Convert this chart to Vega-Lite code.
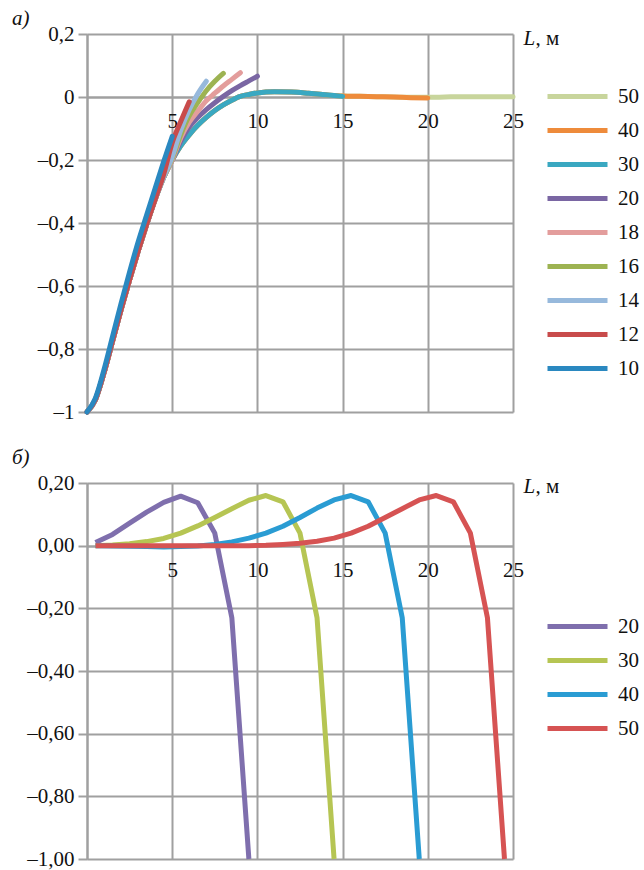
{
  "$schema": "https://vega.github.io/schema/vega-lite/v6.json",
  "padding": {"left": 12, "top": 8, "right": 2, "bottom": 2},
  "spacing": 25,
  "config": {
    "font": "Liberation Serif",
    "view": {"stroke": null},
    "axis": {"labelFont": "Liberation Serif", "titleFont": "Liberation Serif", "labelFontSize": 21, "titleFontSize": 21, "labelColor": "#111111", "titleColor": "#111111", "gridColor": "#a0a0a0", "gridWidth": 2, "domainColor": "#a0a0a0", "domainWidth": 2, "tickColor": "#a0a0a0", "tickWidth": 2, "labelFlush": false, "labelOverlap": false, "titleFontWeight": "normal"},
    "legend": {"labelFont": "Liberation Serif", "labelFontSize": 21, "labelColor": "#111111"},
    "title": {"font": "Liberation Serif", "fontSize": 21, "fontStyle": "italic", "fontWeight": "normal", "color": "#111111", "anchor": "start"}
  },
  "datasets": {
    "a": [
      {"s":"50","L":0,"v":-1},{"s":"50","L":0.5,"v":-0.96},{"s":"50","L":1,"v":-0.875},{"s":"50","L":1.5,"v":-0.775},{"s":"50","L":2,"v":-0.675},{"s":"50","L":2.5,"v":-0.58},{"s":"50","L":3,"v":-0.49},{"s":"50","L":3.5,"v":-0.405},{"s":"50","L":4,"v":-0.325},{"s":"50","L":4.5,"v":-0.255},{"s":"50","L":5,"v":-0.2},{"s":"50","L":5.5,"v":-0.155},{"s":"50","L":6,"v":-0.12},{"s":"50","L":6.5,"v":-0.09},{"s":"50","L":7,"v":-0.065},{"s":"50","L":7.5,"v":-0.043},{"s":"50","L":8,"v":-0.025},{"s":"50","L":8.5,"v":-0.01},{"s":"50","L":9,"v":0.002},{"s":"50","L":9.5,"v":0.008},{"s":"50","L":10,"v":0.013},{"s":"50","L":10.5,"v":0.016},{"s":"50","L":11,"v":0.017},{"s":"50","L":12,"v":0.016},{"s":"50","L":13,"v":0.012},{"s":"50","L":14,"v":0.007},{"s":"50","L":15,"v":0.003},{"s":"50","L":16,"v":0.002},{"s":"50","L":17,"v":0.001},{"s":"50","L":18,"v":0},{"s":"50","L":19,"v":-0.001},{"s":"50","L":20,"v":-0.001},{"s":"50","L":21,"v":0},{"s":"50","L":22,"v":0.001},{"s":"50","L":23,"v":0.001},{"s":"50","L":24,"v":0.001},{"s":"50","L":25,"v":0.001},
      {"s":"40","L":0,"v":-1},{"s":"40","L":0.5,"v":-0.96},{"s":"40","L":1,"v":-0.875},{"s":"40","L":1.5,"v":-0.775},{"s":"40","L":2,"v":-0.675},{"s":"40","L":2.5,"v":-0.58},{"s":"40","L":3,"v":-0.49},{"s":"40","L":3.5,"v":-0.405},{"s":"40","L":4,"v":-0.325},{"s":"40","L":4.5,"v":-0.255},{"s":"40","L":5,"v":-0.2},{"s":"40","L":5.5,"v":-0.155},{"s":"40","L":6,"v":-0.12},{"s":"40","L":6.5,"v":-0.09},{"s":"40","L":7,"v":-0.065},{"s":"40","L":7.5,"v":-0.043},{"s":"40","L":8,"v":-0.025},{"s":"40","L":8.5,"v":-0.01},{"s":"40","L":9,"v":0.002},{"s":"40","L":9.5,"v":0.008},{"s":"40","L":10,"v":0.013},{"s":"40","L":10.5,"v":0.016},{"s":"40","L":11,"v":0.017},{"s":"40","L":12,"v":0.016},{"s":"40","L":13,"v":0.012},{"s":"40","L":14,"v":0.007},{"s":"40","L":15,"v":0.003},{"s":"40","L":16,"v":0.002},{"s":"40","L":17,"v":0.001},{"s":"40","L":18,"v":0},{"s":"40","L":19,"v":-0.002},{"s":"40","L":20,"v":-0.003},
      {"s":"30","L":0,"v":-1},{"s":"30","L":0.5,"v":-0.96},{"s":"30","L":1,"v":-0.875},{"s":"30","L":1.5,"v":-0.775},{"s":"30","L":2,"v":-0.675},{"s":"30","L":2.5,"v":-0.58},{"s":"30","L":3,"v":-0.49},{"s":"30","L":3.5,"v":-0.405},{"s":"30","L":4,"v":-0.325},{"s":"30","L":4.5,"v":-0.255},{"s":"30","L":5,"v":-0.2},{"s":"30","L":5.5,"v":-0.155},{"s":"30","L":6,"v":-0.12},{"s":"30","L":6.5,"v":-0.09},{"s":"30","L":7,"v":-0.065},{"s":"30","L":7.5,"v":-0.043},{"s":"30","L":8,"v":-0.025},{"s":"30","L":8.5,"v":-0.01},{"s":"30","L":9,"v":0.002},{"s":"30","L":9.5,"v":0.008},{"s":"30","L":10,"v":0.013},{"s":"30","L":10.5,"v":0.016},{"s":"30","L":11,"v":0.017},{"s":"30","L":12,"v":0.016},{"s":"30","L":13,"v":0.012},{"s":"30","L":14,"v":0.007},{"s":"30","L":15,"v":0.002},
      {"s":"20","L":0,"v":-1},{"s":"20","L":0.5,"v":-0.96},{"s":"20","L":1,"v":-0.875},{"s":"20","L":1.5,"v":-0.775},{"s":"20","L":2,"v":-0.675},{"s":"20","L":2.5,"v":-0.58},{"s":"20","L":3,"v":-0.49},{"s":"20","L":3.5,"v":-0.405},{"s":"20","L":4,"v":-0.325},{"s":"20","L":4.5,"v":-0.255},{"s":"20","L":5,"v":-0.2},{"s":"20","L":5.5,"v":-0.14},{"s":"20","L":6,"v":-0.095},{"s":"20","L":6.5,"v":-0.065},{"s":"20","L":7,"v":-0.04},{"s":"20","L":7.5,"v":-0.018},{"s":"20","L":8,"v":0.002},{"s":"20","L":8.5,"v":0.02},{"s":"20","L":9,"v":0.036},{"s":"20","L":9.5,"v":0.051},{"s":"20","L":10,"v":0.066},
      {"s":"18","L":0,"v":-1},{"s":"18","L":0.5,"v":-0.96},{"s":"18","L":1,"v":-0.875},{"s":"18","L":1.5,"v":-0.775},{"s":"18","L":2,"v":-0.675},{"s":"18","L":2.5,"v":-0.58},{"s":"18","L":3,"v":-0.49},{"s":"18","L":3.5,"v":-0.405},{"s":"18","L":4,"v":-0.325},{"s":"18","L":4.5,"v":-0.255},{"s":"18","L":5,"v":-0.2},{"s":"18","L":5.5,"v":-0.13},{"s":"18","L":6,"v":-0.08},{"s":"18","L":6.5,"v":-0.045},{"s":"18","L":7,"v":-0.012},{"s":"18","L":7.5,"v":0.012},{"s":"18","L":8,"v":0.035},{"s":"18","L":8.5,"v":0.056},{"s":"18","L":9,"v":0.077},
      {"s":"16","L":0,"v":-1},{"s":"16","L":0.5,"v":-0.96},{"s":"16","L":1,"v":-0.875},{"s":"16","L":1.5,"v":-0.775},{"s":"16","L":2,"v":-0.675},{"s":"16","L":2.5,"v":-0.58},{"s":"16","L":3,"v":-0.49},{"s":"16","L":3.5,"v":-0.405},{"s":"16","L":4,"v":-0.325},{"s":"16","L":4.5,"v":-0.255},{"s":"16","L":5,"v":-0.195},{"s":"16","L":5.5,"v":-0.12},{"s":"16","L":6,"v":-0.06},{"s":"16","L":6.5,"v":-0.018},{"s":"16","L":7,"v":0.02},{"s":"16","L":7.5,"v":0.05},{"s":"16","L":8,"v":0.075},
      {"s":"14","L":0,"v":-1},{"s":"14","L":0.5,"v":-0.96},{"s":"14","L":1,"v":-0.875},{"s":"14","L":1.5,"v":-0.775},{"s":"14","L":2,"v":-0.675},{"s":"14","L":2.5,"v":-0.58},{"s":"14","L":3,"v":-0.49},{"s":"14","L":3.5,"v":-0.405},{"s":"14","L":4,"v":-0.325},{"s":"14","L":4.5,"v":-0.255},{"s":"14","L":5,"v":-0.19},{"s":"14","L":5.5,"v":-0.105},{"s":"14","L":6,"v":-0.04},{"s":"14","L":6.5,"v":0.01},{"s":"14","L":7,"v":0.05},
      {"s":"12","L":0,"v":-1},{"s":"12","L":0.5,"v":-0.96},{"s":"12","L":1,"v":-0.875},{"s":"12","L":1.5,"v":-0.775},{"s":"12","L":2,"v":-0.675},{"s":"12","L":2.5,"v":-0.58},{"s":"12","L":3,"v":-0.49},{"s":"12","L":3.5,"v":-0.405},{"s":"12","L":4,"v":-0.325},{"s":"12","L":4.5,"v":-0.245},{"s":"12","L":5,"v":-0.145},{"s":"12","L":5.5,"v":-0.078},{"s":"12","L":6,"v":-0.015},
      {"s":"10","L":0,"v":-1},{"s":"10","L":0.5,"v":-0.955},{"s":"10","L":1,"v":-0.865},{"s":"10","L":1.5,"v":-0.76},{"s":"10","L":2,"v":-0.655},{"s":"10","L":2.5,"v":-0.555},{"s":"10","L":3,"v":-0.46},{"s":"10","L":3.5,"v":-0.375},{"s":"10","L":4,"v":-0.29},{"s":"10","L":4.5,"v":-0.205},{"s":"10","L":5,"v":-0.125}
    ],
    "b": [
      {"s":"20","L":0.5,"v":0.01},{"s":"20","L":1.5,"v":0.036},{"s":"20","L":2.5,"v":0.072},{"s":"20","L":3.5,"v":0.107},{"s":"20","L":4.5,"v":0.138},{"s":"20","L":5.5,"v":0.158},{"s":"20","L":6.5,"v":0.137},{"s":"20","L":7.5,"v":0.04},{"s":"20","L":8.5,"v":-0.23},{"s":"20","L":9.5,"v":-1.0},
      {"s":"30","L":0.5,"v":0.0},{"s":"30","L":1.5,"v":0.002},{"s":"30","L":2.5,"v":0.006},{"s":"30","L":3.5,"v":0.013},{"s":"30","L":4.5,"v":0.023},{"s":"30","L":5.5,"v":0.04},{"s":"30","L":6.5,"v":0.063},{"s":"30","L":7.5,"v":0.09},{"s":"30","L":8.5,"v":0.118},{"s":"30","L":9.5,"v":0.145},{"s":"30","L":10.5,"v":0.16},{"s":"30","L":11.5,"v":0.14},{"s":"30","L":12.5,"v":0.04},{"s":"30","L":13.5,"v":-0.23},{"s":"30","L":14.5,"v":-1.0},
      {"s":"40","L":0.5,"v":0.0},{"s":"40","L":1.5,"v":-0.001},{"s":"40","L":2.5,"v":-0.002},{"s":"40","L":3.5,"v":-0.003},{"s":"40","L":4.5,"v":-0.004},{"s":"40","L":5.5,"v":-0.003},{"s":"40","L":6.5,"v":-0.001},{"s":"40","L":7.5,"v":0.004},{"s":"40","L":8.5,"v":0.012},{"s":"40","L":9.5,"v":0.024},{"s":"40","L":10.5,"v":0.04},{"s":"40","L":11.5,"v":0.062},{"s":"40","L":12.5,"v":0.09},{"s":"40","L":13.5,"v":0.12},{"s":"40","L":14.5,"v":0.146},{"s":"40","L":15.5,"v":0.16},{"s":"40","L":16.5,"v":0.14},{"s":"40","L":17.5,"v":0.04},{"s":"40","L":18.5,"v":-0.23},{"s":"40","L":19.5,"v":-1.0},
      {"s":"50","L":0.5,"v":0.0},{"s":"50","L":1.5,"v":0.0},{"s":"50","L":2.5,"v":0.0},{"s":"50","L":3.5,"v":0.0},{"s":"50","L":4.5,"v":0.0},{"s":"50","L":5.5,"v":0.0},{"s":"50","L":6.5,"v":0.0},{"s":"50","L":7.5,"v":0.0},{"s":"50","L":8.5,"v":0.0},{"s":"50","L":9.5,"v":0.0},{"s":"50","L":10.5,"v":0.001},{"s":"50","L":11.5,"v":0.004},{"s":"50","L":12.5,"v":0.008},{"s":"50","L":13.5,"v":0.014},{"s":"50","L":14.5,"v":0.024},{"s":"50","L":15.5,"v":0.04},{"s":"50","L":16.5,"v":0.062},{"s":"50","L":17.5,"v":0.09},{"s":"50","L":18.5,"v":0.118},{"s":"50","L":19.5,"v":0.146},{"s":"50","L":20.5,"v":0.16},{"s":"50","L":21.5,"v":0.14},{"s":"50","L":22.5,"v":0.04},{"s":"50","L":23.5,"v":-0.23},{"s":"50","L":24.5,"v":-1.0}
    ]
  },
  "resolve": {"scale": {"color": "independent"}},
  "vconcat": [
    {
      "title": {"text": "а)", "offset": -6},
      "width": 426,
      "height": 378,
      "data": {"name": "a"},
      "mark": {"type": "line", "strokeWidth": 5, "strokeCap": "round", "interpolate": "monotone"},
      "encoding": {
        "x": {"field": "L", "type": "quantitative", "scale": {"domain": [0, 25], "nice": false},
          "axis": {"values": [0, 5, 10, 15, 20, 25], "offset": -315, "ticks": false, "labelPadding": 13, "labelExpr": "datum.value == 0 ? '' : datum.label", "title": "L", "titleFontStyle": "italic", "titleX": 436, "titleY": -59, "titleAlign": "left", "titleBaseline": "middle"}},
        "y": {"field": "v", "type": "quantitative", "scale": {"domain": [-1, 0.2], "nice": false},
          "axis": {"values": [-1, -0.8, -0.6, -0.4, -0.2, 0, 0.2], "tickSize": 9, "labelPadding": 4, "minExtent": 75, "labelExpr": "(datum.value < 0 ? '–' : '') + replace(format(abs(datum.value), '~g'), '.', ',')", "title": ", м", "titleAngle": 0, "titleX": 448, "titleY": 4, "titleAlign": "left", "titleBaseline": "middle", "titleFontStyle": "normal"}},
        "color": {"field": "s", "type": "nominal",
          "scale": {"domain": ["50", "40", "30", "20", "18", "16", "14", "12", "10"], "range": ["#c8d59c", "#ee8b3b", "#3aa8c1", "#7a66a3", "#e39d9c", "#9db352", "#97b9dc", "#c84b4b", "#2a88c0"]},
          "legend": {"orient": "none", "legendX": 480, "legendY": 52, "title": null, "padding": 0, "symbolType": "M-6,0H6", "symbolSize": 100, "symbolStrokeWidth": 5, "labelOffset": 30, "rowPadding": 12}}
      }
    },
    {
      "title": {"text": "б)", "offset": 4},
      "width": 426,
      "height": 376,
      "data": {"name": "b"},
      "mark": {"type": "line", "strokeWidth": 5, "strokeJoin": "round"},
      "encoding": {
        "x": {"field": "L", "type": "quantitative", "scale": {"domain": [0, 25], "nice": false},
          "axis": {"values": [0, 5, 10, 15, 20, 25], "offset": -313, "ticks": false, "labelPadding": 13, "labelExpr": "datum.value == 0 ? '' : datum.label", "title": "L", "titleFontStyle": "italic", "titleX": 436, "titleY": -60, "titleAlign": "left", "titleBaseline": "middle"}},
        "y": {"field": "v", "type": "quantitative", "scale": {"domain": [-1, 0.2], "nice": false},
          "axis": {"values": [-1, -0.8, -0.6, -0.4, -0.2, 0, 0.2], "tickSize": 9, "labelPadding": 4, "minExtent": 75, "labelExpr": "(datum.value < 0 ? '–' : '') + replace(format(abs(datum.value), '.2f'), '.', ',')", "title": ", м", "titleAngle": 0, "titleX": 448, "titleY": 3, "titleAlign": "left", "titleBaseline": "middle", "titleFontStyle": "normal"}},
        "color": {"field": "s", "type": "nominal",
          "scale": {"domain": ["20", "30", "40", "50"], "range": ["#7f6fad", "#b6c553", "#2a9cd3", "#d65353"]},
          "legend": {"orient": "none", "legendX": 480, "legendY": 133, "title": null, "padding": 0, "symbolType": "M-6,0H6", "symbolSize": 100, "symbolStrokeWidth": 5, "labelOffset": 30, "rowPadding": 12}}
      }
    }
  ]
}
